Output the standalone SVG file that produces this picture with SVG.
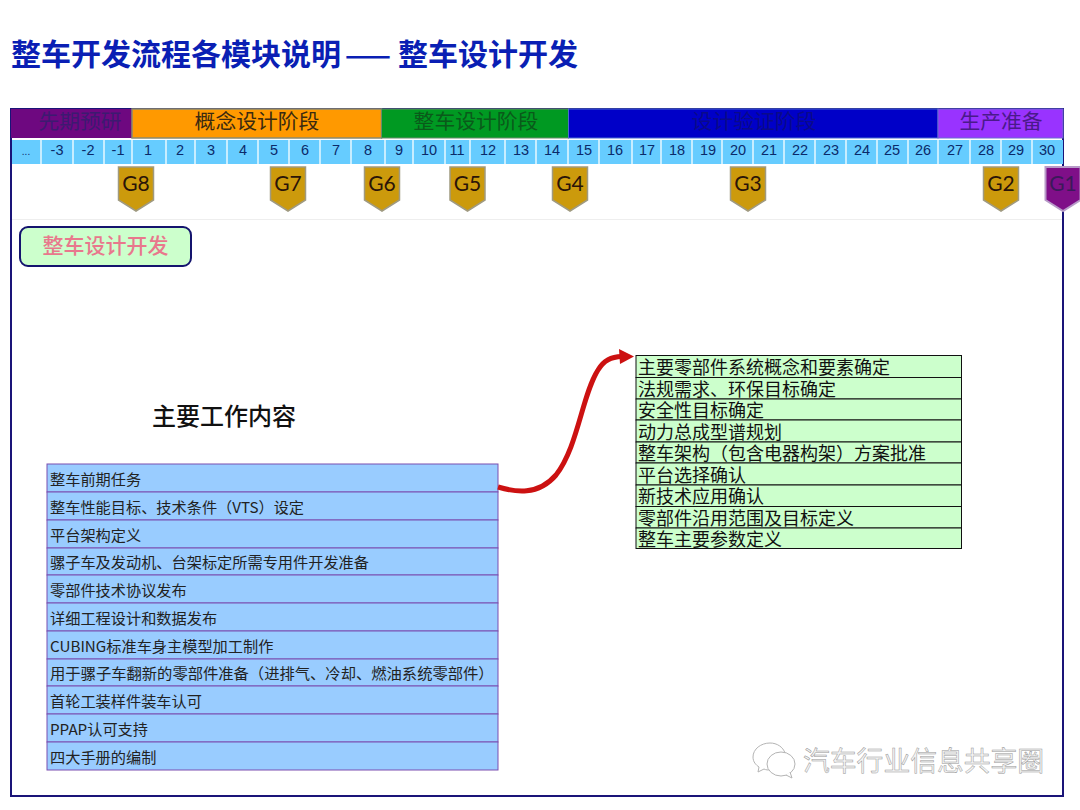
<svg xmlns="http://www.w3.org/2000/svg" width="1080" height="810" viewBox="0 0 1080 810">
<style>
text{font-family:"Noto Sans CJK SC","Liberation Sans",sans-serif}
.ph{font-size:20.8px;text-anchor:middle;fill:#3a2a10}
.num{font-family:"Liberation Sans",sans-serif;font-size:14.5px;text-anchor:middle;fill:#0b2a6a}
.sep{stroke:#e8f8ff;stroke-width:1.5}
.g{fill:#cc9a0c;stroke:#a09a80;stroke-width:1.5}
.gt{font-family:"Lato",sans-serif;font-size:21px;text-anchor:middle;fill:#2a1408}
.b{fill:#99ccff;stroke:#7a4fb0;stroke-width:1}
.bt{font-size:15.2px;fill:#222}
.gr{fill:#ccffcc;stroke:#111;stroke-width:1}
.grt{font-size:18px;fill:#111}
</style>
<defs>
<polygon id="pent" points="-17.5,0 17.5,0 17.5,33 0,44 -17.5,33"/>
</defs>
<rect width="1080" height="810" fill="#fff"/>
<text y="65" font-size="30" font-weight="700" fill="#0a1fb4"><tspan x="11">整车开发流程各模块说明</tspan><tspan x="345" font-size="27">——</tspan><tspan x="398">整车设计开发</tspan></text>
<rect x="11" y="109" width="1052" height="687" fill="#fff" stroke="#1a1478" stroke-width="2"/>
<line x1="12" y1="219.500" x2="1062" y2="219.500" stroke="#eeeeee"/>
<g id="phases">
<rect x="11" y="109" width="121" height="29" fill="#6e0880"/>
<rect x="132" y="109" width="249.500" height="29" fill="#ff9900" stroke="#8a8a70" stroke-width="1.500"/>
<rect x="381.500" y="109" width="187" height="29" fill="#009922" stroke="#6a8a6a" stroke-width="1"/>
<rect x="568.500" y="109" width="369.500" height="29" fill="#0000c8" stroke="#4a6ad0" stroke-width="1"/>
<rect x="938" y="109" width="125" height="29" fill="#9933ff" stroke="#6a6ad0" stroke-width="1"/>
<text class="ph" x="80" y="129" style="fill:#3d1a70">先期预研</text>
<text class="ph" x="257" y="129">概念设计阶段</text>
<text class="ph" x="476" y="129" style="fill:#0a5a1a">整车设计阶段</text>
<text class="ph" x="754" y="129" style="fill:#0a0a8a">设计验证阶段</text>
<text class="ph" x="1001" y="129" style="fill:#4a1a8a">生产准备</text>
</g>
<g id="timeline">
<rect x="12" y="140" width="1051" height="24" fill="#66ccff"/>
<path class="sep" d="M41 140V164M73 140V164M104 140V164M132 140V164M166 140V164M195 140V164M227 140V164M258 140V164M289 140V164M320 140V164M351 140V164M385 140V164M413 140V164M445 140V164M470 140V164M505 140V164M536 140V164M568 140V164M599 140V164M632 140V164M661 140V164M692 140V164M722 140V164M753 140V164M784 140V164M815 140V164M846 140V164M877 140V164M908 140V164M938 140V164M970 140V164M1001 140V164M1032 140V164"/>
<text class="num" x="26" y="155" style="font-size:10px">...</text>
<text class="num" x="57" y="155">-3</text><text class="num" x="88" y="155">-2</text><text class="num" x="118" y="155">-1</text>
<text class="num" x="148" y="155">1</text><text class="num" x="180" y="155">2</text><text class="num" x="211" y="155">3</text><text class="num" x="243" y="155">4</text><text class="num" x="274" y="155">5</text><text class="num" x="305" y="155">6</text><text class="num" x="336" y="155">7</text><text class="num" x="368" y="155">8</text><text class="num" x="399" y="155">9</text><text class="num" x="429" y="155">10</text><text class="num" x="457" y="155">11</text><text class="num" x="488" y="155">12</text><text class="num" x="521" y="155">13</text><text class="num" x="552" y="155">14</text><text class="num" x="584" y="155">15</text><text class="num" x="615" y="155">16</text><text class="num" x="647" y="155">17</text><text class="num" x="677" y="155">18</text><text class="num" x="708" y="155">19</text><text class="num" x="738" y="155">20</text><text class="num" x="769" y="155">21</text><text class="num" x="800" y="155">22</text><text class="num" x="831" y="155">23</text><text class="num" x="862" y="155">24</text><text class="num" x="892" y="155">25</text><text class="num" x="923" y="155">26</text><text class="num" x="955" y="155">27</text><text class="num" x="986" y="155">28</text><text class="num" x="1016" y="155">29</text><text class="num" x="1047" y="155">30</text>
</g>
<g id="G8"><use class="g" href="#pent" x="136" y="167"/><text class="gt" x="136" y="191">G8</text></g>
<g id="G7"><use class="g" href="#pent" x="288" y="167"/><text class="gt" x="288" y="191">G7</text></g>
<g id="G6"><use class="g" href="#pent" x="382" y="167"/><text class="gt" x="382" y="191">G6</text></g>
<g id="G5"><use class="g" href="#pent" x="467.500" y="167"/><text class="gt" x="467.500" y="191">G5</text></g>
<g id="G4"><use class="g" href="#pent" x="570" y="167"/><text class="gt" x="570" y="191">G4</text></g>
<g id="G3"><use class="g" href="#pent" x="748" y="167"/><text class="gt" x="748" y="191">G3</text></g>
<g id="G2"><use class="g" href="#pent" x="1001" y="167"/><text class="gt" x="1001" y="191">G2</text></g>
<g id="G1"><use href="#pent" x="1063" y="167" fill="#7f0f88" stroke="#b79ac8" stroke-width="2"/><text class="gt" x="1063" y="191" style="fill:#3a1a5a">G1</text></g>
<g id="module">
<rect x="20" y="227" width="171" height="39" rx="8" fill="#ccffcc" stroke="#14146e" stroke-width="2"/>
<text x="105.500" y="253" font-size="21" font-weight="500" text-anchor="middle" fill="#e8788c">整车设计开发</text>
</g>
<text id="heading" x="152" y="425" font-size="24" font-weight="500" fill="#111">主要工作内容</text>
<g id="tasks">
<rect class="b" x="47" y="464" width="451" height="28"/><text class="bt" x="50" y="485">整车前期任务</text>
<rect class="b" x="47" y="492" width="451" height="28"/><text class="bt" x="50" y="513">整车性能目标、技术条件（VTS）设定</text>
<rect class="b" x="47" y="520" width="451" height="28"/><text class="bt" x="50" y="541">平台架构定义</text>
<rect class="b" x="47" y="548" width="451" height="27"/><text class="bt" x="50" y="568">骡子车及发动机、台架标定所需专用件开发准备</text>
<rect class="b" x="47" y="575" width="451" height="28"/><text class="bt" x="50" y="596">零部件技术协议发布</text>
<rect class="b" x="47" y="603" width="451" height="28"/><text class="bt" x="50" y="624">详细工程设计和数据发布</text>
<rect class="b" x="47" y="631" width="451" height="28"/><text class="bt" x="50" y="652">CUBING标准车身主模型加工制作</text>
<rect class="b" x="47" y="659" width="451" height="27"/><text class="bt" x="50" y="679" style="font-size:15.300px">用于骡子车翻新的零部件准备（进排气、冷却、燃油系统零部件）</text>
<rect class="b" x="47" y="686" width="451" height="28"/><text class="bt" x="50" y="707">首轮工装样件装车认可</text>
<rect class="b" x="47" y="714" width="451" height="28"/><text class="bt" x="50" y="735">PPAP认可支持</text>
<rect class="b" x="47" y="742" width="451" height="28"/><text class="bt" x="50" y="763">四大手册的编制</text>
</g>
<g id="items">
<rect class="gr" x="636" y="355.500" width="325.500" height="22"/><text class="grt" x="638" y="374">主要零部件系统概念和要素确定</text>
<rect class="gr" x="636" y="377.500" width="325.500" height="21.500"/><text class="grt" x="638" y="396">法规需求、环保目标确定</text>
<rect class="gr" x="636" y="399" width="325.500" height="21"/><text class="grt" x="638" y="417">安全性目标确定</text>
<rect class="gr" x="636" y="420" width="325.500" height="22"/><text class="grt" x="638" y="439">动力总成型谱规划</text>
<rect class="gr" x="636" y="442" width="325.500" height="21"/><text class="grt" x="638" y="460">整车架构（包含电器构架）方案批准</text>
<rect class="gr" x="636" y="463" width="325.500" height="22"/><text class="grt" x="638" y="482">平台选择确认</text>
<rect class="gr" x="636" y="485" width="325.500" height="21.500"/><text class="grt" x="638" y="503">新技术应用确认</text>
<rect class="gr" x="636" y="506.500" width="325.500" height="21.500"/><text class="grt" x="638" y="525">零部件沿用范围及目标定义</text>
<rect class="gr" x="636" y="528" width="325.500" height="20.500"/><text class="grt" x="638" y="546">整车主要参数定义</text>
</g>
<g id="connectors">
<path d="M498 487C515 492 538 496 556 475C578 447 582 395 598 370C604 360 611 357 622 356.500" fill="none" stroke="#cc1111" stroke-width="5"/>
<polygon points="634,356.500 619,349 620,364" fill="#cc1111"/>
</g>
<g id="watermark">
<g fill="#fff" stroke="#b4b4b4" stroke-width="1">
<path d="M770 743C761 743 753 749 753 757C753 762 756 765 759 767L758 772L764 769C766 770 768 770 770 770"/>
<path d="M770 743C777 743 783 747 785 753"/>
<ellipse cx="781" cy="764" rx="14" ry="12"/>
<path d="M786 775L792 778L790 772"/>
</g>
<text x="803" y="771" font-size="26.800" fill="#f4f4f4" stroke="#999" stroke-width="0.500">汽车行业信息共享圈</text>
</g>
</svg>
